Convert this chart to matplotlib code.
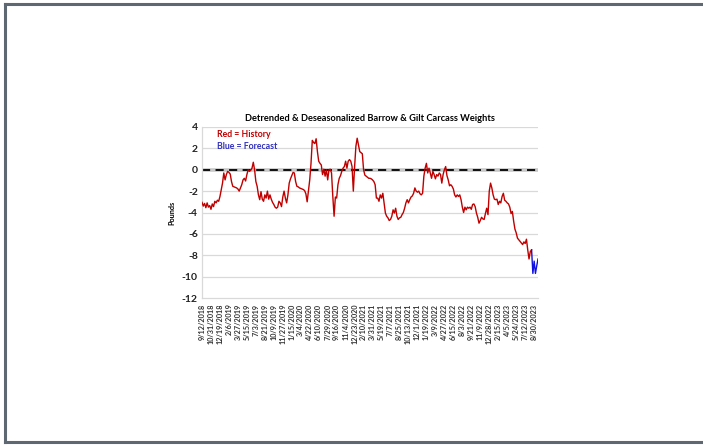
import matplotlib
matplotlib.use("Agg")
import matplotlib.pyplot as plt
from matplotlib.lines import Line2D

# Weekly detrended & deseasonalized carcass weight deviations (pounds)
history = [
    -3.05, -3.4, -3.15, -3.55, -3.1, -3.5, -3.35, -3.7, -3.2, -3.45,
    -2.95, -3.1, -2.85, -2.95, -2.5, -1.85, -1.25, -0.3, -0.95, -0.45,
    -0.15, -0.25, -0.4, -1.1, -1.55, -1.6, -1.65, -1.7, -1.8, -2.0,
    -1.7, -1.4, -0.95, -0.8, -1.05, -0.45, 0.0, -0.15, -0.05, 0.15,
    0.7, 0.0, -1.1, -1.55, -2.35, -2.8, -2.05, -2.75, -2.95, -2.35,
    -2.65, -2.0, -2.75, -2.35, -2.75, -3.05, -3.25, -3.5, -3.6, -3.5,
    -2.95, -3.1, -3.45, -2.55, -2.0, -2.65, -3.1, -2.35, -1.25, -0.85,
    -0.55, -0.25, -0.3, -1.1, -1.55, -1.6, -1.7, -1.75, -1.8, -1.85,
    -1.95, -2.25, -3.0, -1.95, -0.95, 0.6, 2.75, 2.55, 2.45, 2.9,
    1.7, 0.8, 0.6, 0.45, -0.45, 0.05, -0.6, 0.0, -0.95, 0.0,
    0.05, -0.3, -2.5, -4.35, -2.55, -2.65, -1.4, -0.8, -0.55, -0.15,
    0.15, 0.3, 0.8, 0.15, 0.8, 0.95, 0.8, 0.3, -2.0, 0.3,
    2.2, 2.95, 2.35, 1.7, 1.6, 1.5, 0.0, -0.5, -0.6, -0.7,
    -0.8, -0.8, -0.85, -0.95, -1.1, -1.4, -2.65, -2.65, -2.95, -2.35,
    -2.65, -2.2, -3.1, -4.05, -4.35, -4.5, -4.75, -4.65, -4.35, -3.75,
    -4.05, -3.6, -4.35, -4.65, -4.5, -4.45, -4.2, -4.0, -3.6, -3.1,
    -2.8, -3.1, -2.8, -2.55, -2.45, -2.2, -1.7, -2.0, -2.1, -2.0,
    -2.25, -2.35, -2.2, -0.6, 0.15, 0.6, -0.3, 0.15, -0.3, -0.8,
    -0.15, -0.45, -0.85, -0.45, -0.6, -0.3, -0.45, -1.25, -0.45, 0.0,
    0.3, -0.55, -0.95, -1.5, -1.4, -1.55, -1.8, -2.35, -2.55, -2.35,
    -2.5, -2.35, -2.8, -3.5, -4.0, -3.5, -3.75, -3.5, -3.6, -3.5,
    -3.7, -3.25, -3.2, -3.45, -4.05, -4.45, -5.0, -4.75, -4.45, -4.6,
    -4.65, -4.1, -3.6, -4.2, -2.0, -1.25, -1.7, -2.35, -2.75, -2.8,
    -2.75, -3.25, -2.95, -3.1, -2.5, -2.2, -2.85, -2.95, -3.1, -3.2,
    -3.5, -4.1, -3.9, -4.8, -5.55, -5.9, -6.4, -6.55, -6.7, -6.85,
    -7.0, -6.75, -6.9, -6.5, -7.5, -8.35, -7.65, -7.5,
]
# Forecast continues from the last history week
forecast = [-7.5, -9.7, -8.55, -9.7, -9.0, -8.35]

tick_labels = [
    "9/12/2018", "10/31/2018", "12/19/2018", "2/6/2019", "3/27/2019",
    "5/15/2019", "7/3/2019", "8/21/2019", "10/9/2019", "11/27/2019",
    "1/15/2020", "3/4/2020", "4/22/2020", "6/10/2020", "7/29/2020",
    "9/16/2020", "11/4/2020", "12/23/2020", "2/10/2021", "3/31/2021",
    "5/19/2021", "7/7/2021", "8/25/2021", "10/13/2021", "12/1/2021",
    "1/19/2022", "3/9/2022", "4/27/2022", "6/15/2022", "8/3/2022",
    "9/21/2022", "11/9/2022", "12/28/2022", "2/15/2023", "4/5/2023",
    "5/24/2023", "7/12/2023", "8/30/2023",
]
tick_step = 7  # one label every seven weeks

plt.rcParams["font.family"] = ["Lato", "DejaVu Sans"]

fig = plt.figure(figsize=(7.03, 4.45), dpi=100)
ax = fig.add_axes([202 / 703, 1 - 298 / 445, 336 / 703, 171 / 445])

hx = list(range(len(history)))
fx = list(range(len(history) - 1, len(history) - 1 + len(forecast)))
n_total = len(history) - 1 + len(forecast)

grid_c = "#d9d9d9"
for y in range(-10, 5, 2):
    ax.axhline(y, color=grid_c, lw=0.9, zorder=1)
ax.axhline(0, color="#c8c8c8", lw=2.6, zorder=1.5)
ax.axhline(0, color="black", lw=1.3, ls=(0, (4.5, 3)), zorder=2)

ax.plot(hx, history, color="#c00000", lw=1.0, zorder=3)
ax.plot(fx, forecast, color="#1010e0", lw=1.0, zorder=3)

ax.set_xlim(0, n_total - 1)
ax.set_ylim(-12, 4)
ax.set_yticks(range(-12, 5, 2))
ax.set_yticklabels([str(v) for v in range(-12, 5, 2)],
                   fontsize=7.5, fontweight="bold", color="#222222")
ax.set_xticks([i * tick_step for i in range(len(tick_labels))])
ax.set_xticklabels(tick_labels, rotation=90, fontsize=5.2,
                   fontweight="bold", color="#333333")
ax.tick_params(axis="both", length=0, pad=3)
ax.tick_params(axis="x", pad=4)

for s in ("top", "right"):
    ax.spines[s].set_visible(False)
ax.spines["left"].set_color(grid_c)
ax.spines["bottom"].set_color(grid_c)
ax.spines["left"].set_linewidth(0.9)
ax.spines["bottom"].set_linewidth(0.9)

ax.set_ylabel("Pounds", fontsize=5.2, fontweight="bold", labelpad=5)
ax.set_title("Detrended & Deseasonalized Barrow & Gilt Carcass Weights",
             fontsize=6.7, fontweight="bold", pad=4)

ax.text(0.045, 0.955, "Red = History", transform=ax.transAxes,
        color="#c00000", fontsize=6.3, fontweight="bold", va="center")
ax.text(0.045, 0.885, "Blue = Forecast", transform=ax.transAxes,
        color="#3030c0", fontsize=6.3, fontweight="bold", va="center")

# Page frame on the left, top and bottom edges
frame_c = "#5d6872"
fig.add_artist(Line2D([5 / 703, 1], [1 - 4 / 445] * 2, color=frame_c, lw=2.2))
fig.add_artist(Line2D([5 / 703, 1], [1 - 442 / 445] * 2, color=frame_c, lw=2.2))
fig.add_artist(Line2D([5 / 703] * 2, [1 - 4 / 445, 1 - 442 / 445],
                      color=frame_c, lw=2.2))

fig.savefig("out.png", dpi=100)
